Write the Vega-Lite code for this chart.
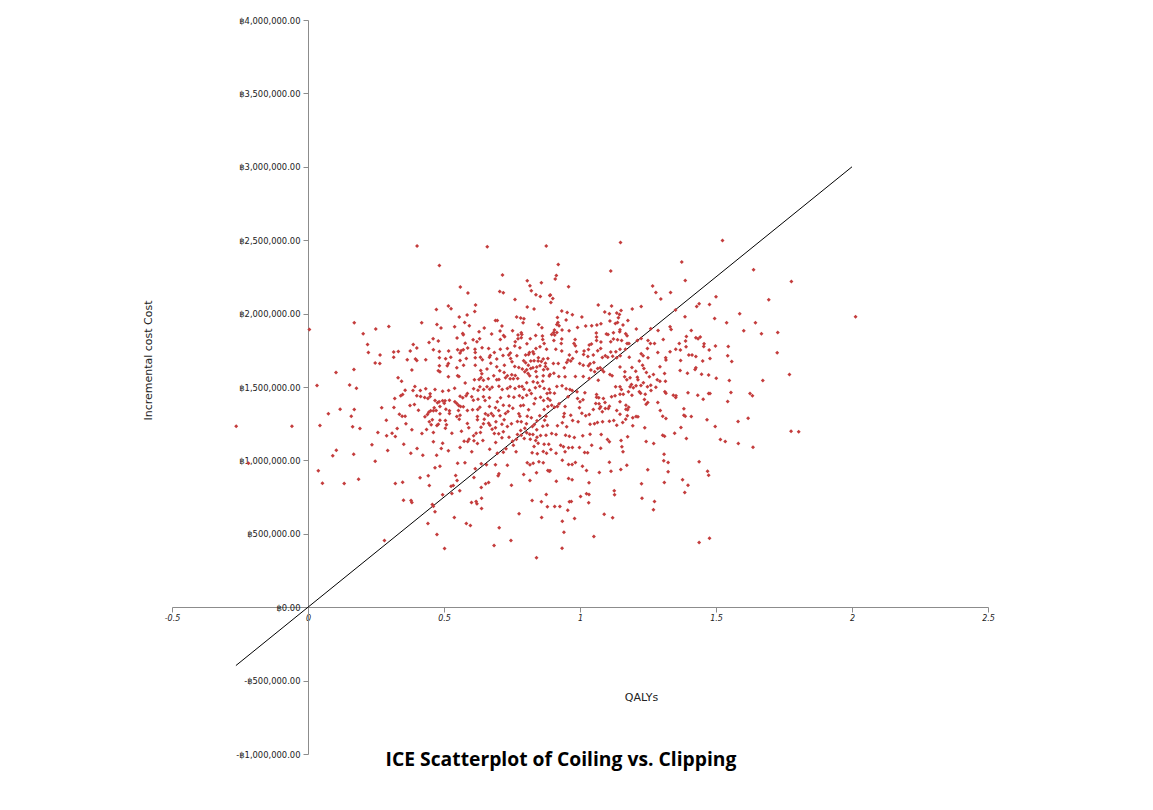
{
"$schema":"https://vega.github.io/schema/vega-lite/v6.json",
"width":816,"height":734,
"autosize":{"type":"none"},
"padding":{"left":172,"top":20,"right":165,"bottom":56},
"background":"white",
"config":{"view":{"stroke":null},"font":"DejaVu Sans"},
"title":{"text":"ICE Scatterplot of Coiling vs. Clipping","orient":"bottom","anchor":"middle","font":"Open Sans","fontSize":19.3,"fontWeight":"bold","color":"#000","offset":-7,"dx":-19},
"datasets":{
"line":[{"q":-0.265,"c":-397500},{"q":2.0,"c":3000000}],
"pts":[
{"q":0.005,"c":1892300},{"q":0.170,"c":1937300},{"q":0.203,"c":1862400},{"q":0.249,"c":1894400},{"q":0.297,"c":1912800},{"q":0.219,"c":1790100},{"q":0.222,"c":1735600},{"q":0.265,"c":1717200},{"q":0.247,"c":1662700},{"q":0.264,"c":1660700},{"q":0.103,"c":1599300},{"q":0.169,"c":1619800},{"q":0.033,"c":1510700},{"q":0.153,"c":1512800},{"q":0.178,"c":1492300},{"q":0.118,"c":1349200},{"q":0.170,"c":1347200},{"q":0.271,"c":1358100},{"q":0.075,"c":1317200},{"q":0.159,"c":1301500},{"q":-0.264,"c":1233400},{"q":-0.059,"c":1233400},{"q":0.044,"c":1238200},{"q":0.164,"c":1228600},{"q":0.191,"c":1217700},{"q":0.288,"c":1274300},{"q":0.257,"c":1190500},{"q":0.289,"c":1167300},{"q":0.235,"c":1106000},{"q":0.104,"c":1069800},{"q":0.091,"c":1031000},{"q":0.168,"c":1042600},{"q":0.293,"c":1067800},{"q":0.247,"c":994900},{"q":-0.219,"c":981300},{"q":0.038,"c":928800},{"q":0.053,"c":845000},{"q":0.133,"c":842900},{"q":0.186,"c":872200},{"q":0.281,"c":454500},
{"q":0.401,"c":2459900},{"q":0.659,"c":2455400},{"q":0.876,"c":2459900},{"q":0.483,"c":2328200},{"q":0.715,"c":2262300},{"q":0.806,"c":2223700},{"q":0.858,"c":2210100},{"q":0.560,"c":2180600},{"q":0.816,"c":2189700},{"q":0.705,"c":2151000},{"q":0.718,"c":2141900},{"q":0.821,"c":2155600},{"q":0.588,"c":2139700},{"q":0.838,"c":2128300},{"q":0.854,"c":2117000},{"q":0.889,"c":2123800},{"q":0.761,"c":2096500},{"q":0.516,"c":2051100},{"q":0.526,"c":2032900},{"q":0.616,"c":2057900},{"q":0.472,"c":2028400},{"q":0.806,"c":2044300},{"q":0.831,"c":2030700},{"q":0.613,"c":2014800},{"q":0.585,"c":1989800},{"q":0.556,"c":1976100},{"q":0.767,"c":1976100},{"q":0.782,"c":1969300},{"q":0.794,"c":1964800},{"q":0.418,"c":1937500},{"q":0.689,"c":1953400},{"q":0.696,"c":1953400},{"q":0.576,"c":1939800},{"q":0.474,"c":1926200},{"q":0.593,"c":1917100},{"q":0.713,"c":1914800},{"q":0.791,"c":1937500},{"q":0.848,"c":1926200},{"q":0.860,"c":1903500},{"q":0.489,"c":1901200},{"q":0.539,"c":1910300},{"q":0.648,"c":1901200},{"q":0.706,"c":1880700},{"q":0.629,"c":1876200},{"q":0.675,"c":1860300},{"q":0.569,"c":1864800},{"q":0.571,"c":1855700},{"q":0.719,"c":1851200},{"q":0.752,"c":1883000},{"q":0.772,"c":1853500},{"q":0.784,"c":1869400},{"q":0.786,"c":1858000},{"q":0.837,"c":1851200},{"q":0.862,"c":1846700},{"q":0.460,"c":1828500},{"q":0.548,"c":1833000},{"q":0.631,"c":1828500},{"q":0.723,"c":1842100},{"q":0.772,"c":1828500},{"q":0.784,"c":1835300},{"q":0.817,"c":1828500},{"q":0.863,"c":1824000},{"q":0.445,"c":1803500},{"q":0.479,"c":1812600},{"q":0.607,"c":1821700},{"q":0.621,"c":1808100},{"q":0.707,"c":1824000},{"q":0.762,"c":1808100},{"q":0.805,"c":1794400},{"q":0.868,"c":1796700},{"q":0.387,"c":1789900},{"q":0.578,"c":1798000},
{"q":0.315,"c":1737600},{"q":0.332,"c":1742100},{"q":0.376,"c":1744400},{"q":0.400,"c":1764900},{"q":0.461,"c":1753500},{"q":0.483,"c":1742100},{"q":0.517,"c":1744400},{"q":0.550,"c":1753500},{"q":0.563,"c":1746700},{"q":0.571,"c":1753500},{"q":0.587,"c":1764900},{"q":0.614,"c":1758000},{"q":0.640,"c":1767100},{"q":0.615,"c":1735300},{"q":0.664,"c":1762600},{"q":0.685,"c":1735300},{"q":0.707,"c":1758000},{"q":0.733,"c":1762600},{"q":0.744,"c":1730800},{"q":0.760,"c":1778500},{"q":0.779,"c":1767100},{"q":0.814,"c":1735300},{"q":0.827,"c":1739900},{"q":0.838,"c":1762600},{"q":0.853,"c":1773900},{"q":0.877,"c":1758000},{"q":0.315,"c":1703500},{"q":0.365,"c":1685400},{"q":0.395,"c":1689900},{"q":0.400,"c":1680800},{"q":0.433,"c":1685400},{"q":0.483,"c":1699000},{"q":0.506,"c":1692200},{"q":0.525,"c":1703500},{"q":0.559,"c":1730800},{"q":0.559,"c":1680800},{"q":0.582,"c":1694400},{"q":0.615,"c":1699000},{"q":0.634,"c":1703500},{"q":0.641,"c":1685400},{"q":0.667,"c":1703500},{"q":0.670,"c":1714900},{"q":0.694,"c":1689900},{"q":0.717,"c":1714900},{"q":0.738,"c":1717200},{"q":0.745,"c":1694400},{"q":0.768,"c":1712600},{"q":0.800,"c":1717200},{"q":0.811,"c":1721700},{"q":0.830,"c":1726200},{"q":0.847,"c":1699000},{"q":0.865,"c":1689900},{"q":0.882,"c":1694400},{"q":0.793,"c":1678500},{"q":0.800,"c":1664900},{"q":0.810,"c":1649000},{"q":0.819,"c":1676300},{"q":0.831,"c":1678500},{"q":0.846,"c":1676300},{"q":0.858,"c":1674000},{"q":0.873,"c":1662600},{"q":0.853,"c":1644500},{"q":0.841,"c":1635400},{"q":0.819,"c":1626300},{"q":0.827,"c":1630800},{"q":0.873,"c":1639900},{"q":0.881,"c":1621800},{"q":0.516,"c":1660400},{"q":0.512,"c":1644500},{"q":0.547,"c":1630800},{"q":0.572,"c":1649000},{"q":0.615,"c":1649000},{"q":0.672,"c":1662600},{"q":0.694,"c":1637700},{"q":0.722,"c":1649000},{"q":0.750,"c":1671700},{"q":0.760,"c":1639900},{"q":0.775,"c":1633100},{"q":0.788,"c":1621800},{"q":0.804,"c":1617200},{"q":0.838,"c":1605900},{"q":0.866,"c":1617200},{"q":0.483,"c":1644500},{"q":0.479,"c":1610400},{"q":0.382,"c":1615000},{"q":0.485,"c":1603600},{"q":0.550,"c":1576300},{"q":0.555,"c":1571800},{"q":0.635,"c":1612700},{"q":0.658,"c":1621800},{"q":0.639,"c":1590000},{"q":0.683,"c":1576300},{"q":0.705,"c":1610400},{"q":0.721,"c":1599000},{"q":0.733,"c":1576300},{"q":0.749,"c":1583200},{"q":0.762,"c":1578600},{"q":0.771,"c":1558200},{"q":0.797,"c":1603600},{"q":0.809,"c":1592200},{"q":0.815,"c":1576300},{"q":0.841,"c":1569500},{"q":0.865,"c":1576300},{"q":0.331,"c":1562700},{"q":0.344,"c":1540000},{"q":0.516,"c":1569500},{"q":0.578,"c":1526400},{"q":0.612,"c":1549100},{"q":0.629,"c":1551400},{"q":0.636,"c":1562700},{"q":0.645,"c":1546800},{"q":0.663,"c":1555900},{"q":0.694,"c":1549100},{"q":0.702,"c":1551400},{"q":0.726,"c":1562700},{"q":0.743,"c":1555900},{"q":0.755,"c":1555900},{"q":0.804,"c":1528600},{"q":0.828,"c":1535400},{"q":0.844,"c":1528600},{"q":0.863,"c":1540000},{"q":0.887,"c":1574100},{"q":0.357,"c":1478700},{"q":0.393,"c":1503600},{"q":0.386,"c":1476400},{"q":0.413,"c":1476400},{"q":0.341,"c":1440000},{"q":0.348,"c":1449100},{"q":0.319,"c":1421900},{"q":0.433,"c":1487700},{"q":0.449,"c":1453700},{"q":0.467,"c":1483200},{"q":0.495,"c":1471800},{"q":0.517,"c":1476400},{"q":0.539,"c":1492300},{"q":0.559,"c":1437800},{"q":0.581,"c":1440000},{"q":0.586,"c":1455900},{"q":0.602,"c":1433200},{"q":0.609,"c":1487700},{"q":0.625,"c":1478700},{"q":0.632,"c":1501400},{"q":0.646,"c":1483200},{"q":0.658,"c":1501400},{"q":0.668,"c":1485500},{"q":0.677,"c":1499100},{"q":0.702,"c":1505900},{"q":0.714,"c":1483200},{"q":0.733,"c":1490000},{"q":0.743,"c":1501400},{"q":0.761,"c":1490000},{"q":0.776,"c":1503600},{"q":0.787,"c":1503600},{"q":0.794,"c":1485500},{"q":0.814,"c":1478700},{"q":0.836,"c":1494600},{"q":0.852,"c":1505900},{"q":0.868,"c":1490000},{"q":0.879,"c":1455900},{"q":0.887,"c":1485500},{"q":0.400,"c":1440000},{"q":0.414,"c":1435500},{"q":0.429,"c":1428700},{"q":0.449,"c":1435500},{"q":0.441,"c":1421900},{"q":0.467,"c":1408200},{"q":0.476,"c":1392300},{"q":0.482,"c":1399200},{"q":0.495,"c":1406000},{"q":0.501,"c":1390100},{"q":0.504,"c":1406000},{"q":0.520,"c":1410500},{"q":0.540,"c":1399200},{"q":0.547,"c":1387800},{"q":0.554,"c":1374200},{"q":0.561,"c":1367400},{"q":0.569,"c":1426400},{"q":0.608,"c":1410500},{"q":0.625,"c":1417300},{"q":0.645,"c":1433200},{"q":0.651,"c":1408200},{"q":0.667,"c":1426400},{"q":0.696,"c":1399200},{"q":0.708,"c":1426400},{"q":0.738,"c":1437800},{"q":0.757,"c":1431000},{"q":0.777,"c":1440000},{"q":0.789,"c":1426400},{"q":0.804,"c":1444600},{"q":0.821,"c":1455900},{"q":0.836,"c":1421900},{"q":0.855,"c":1431000},{"q":0.866,"c":1408200},{"q":0.882,"c":1421900},{"q":0.316,"c":1360500},{"q":0.375,"c":1374200},{"q":0.391,"c":1381000},{"q":0.406,"c":1342400},{"q":0.464,"c":1358300},{"q":0.471,"c":1340100},{"q":0.485,"c":1367400},{"q":0.507,"c":1349200},{"q":0.520,"c":1337800},{"q":0.553,"c":1340100},{"q":0.571,"c":1365100},{"q":0.605,"c":1344600},{"q":0.624,"c":1346900},{"q":0.632,"c":1362800},{"q":0.667,"c":1367400},{"q":0.689,"c":1358300},{"q":0.701,"c":1340100},{"q":0.718,"c":1376500},{"q":0.740,"c":1371900},{"q":0.753,"c":1356000},{"q":0.782,"c":1371900},{"q":0.792,"c":1376500},{"q":0.811,"c":1344600},{"q":0.831,"c":1385500},{"q":0.868,"c":1346900},{"q":0.882,"c":1367400},{"q":0.336,"c":1315100},{"q":0.346,"c":1301500},{"q":0.357,"c":1301500},{"q":0.430,"c":1297000},{"q":0.439,"c":1312800},{"q":0.444,"c":1328700},{"q":0.451,"c":1337800},{"q":0.461,"c":1337800},{"q":0.485,"c":1317400},{"q":0.520,"c":1319700},{"q":0.547,"c":1299200},{"q":0.559,"c":1308300},{"q":0.586,"c":1340100},{"q":0.623,"c":1299200},{"q":0.652,"c":1317400},{"q":0.662,"c":1308300},{"q":0.674,"c":1319700},{"q":0.681,"c":1303800},{"q":0.706,"c":1303800},{"q":0.726,"c":1319700},{"q":0.735,"c":1333300},{"q":0.775,"c":1317400},{"q":0.779,"c":1301500},{"q":0.806,"c":1301500},{"q":0.821,"c":1290100},{"q":0.852,"c":1303800},{"q":0.875,"c":1301500},{"q":0.446,"c":1262900},{"q":0.457,"c":1276500},{"q":0.485,"c":1274200},{"q":0.479,"c":1247000},{"q":0.505,"c":1272000},{"q":0.509,"c":1242400},{"q":0.360,"c":1249200},{"q":0.453,"c":1242400},{"q":0.474,"c":1237900},{"q":0.556,"c":1281100},{"q":0.586,"c":1251500},{"q":0.623,"c":1276500},{"q":0.645,"c":1249200},{"q":0.648,"c":1281100},{"q":0.664,"c":1253800},{"q":0.669,"c":1240200},{"q":0.691,"c":1262900},{"q":0.713,"c":1247000},{"q":0.721,"c":1276500},{"q":0.748,"c":1249200},{"q":0.770,"c":1265200},{"q":0.784,"c":1262900},{"q":0.803,"c":1249200},{"q":0.832,"c":1244700},{"q":0.842,"c":1269700},{"q":0.870,"c":1274200},{"q":0.880,"c":1240200},{"q":0.328,"c":1217400},{"q":0.382,"c":1208400},{"q":0.436,"c":1210600},{"q":0.505,"c":1219700},{"q":0.591,"c":1222000},{"q":0.636,"c":1226500},{"q":0.677,"c":1212900},{"q":0.689,"c":1222000},{"q":0.733,"c":1231100},{"q":0.782,"c":1203800},{"q":0.797,"c":1219700},{"q":0.825,"c":1231100},{"q":0.841,"c":1208400},{"q":0.863,"c":1233400},{"q":0.309,"c":1185600},{"q":0.321,"c":1162900},{"q":0.419,"c":1183400},{"q":0.461,"c":1190200},{"q":0.529,"c":1185600},{"q":0.564,"c":1199300},{"q":0.609,"c":1167500},{"q":0.618,"c":1185600},{"q":0.634,"c":1190200},{"q":0.685,"c":1183400},{"q":0.701,"c":1181100},{"q":0.718,"c":1194700},{"q":0.770,"c":1176600},{"q":0.784,"c":1172000},{"q":0.804,"c":1187900},{"q":0.815,"c":1178800},{"q":0.827,"c":1176600},{"q":0.842,"c":1158400},{"q":0.855,"c":1169800},{"q":0.875,"c":1172000},{"q":0.574,"c":1131100},{"q":0.587,"c":1128900},{"q":0.592,"c":1144800},{"q":0.610,"c":1133400},{"q":0.623,"c":1115200},{"q":0.643,"c":1135700},{"q":0.690,"c":1122000},{"q":0.713,"c":1153800},{"q":0.739,"c":1158400},{"q":0.752,"c":1131100},{"q":0.766,"c":1144800},{"q":0.795,"c":1149300},{"q":0.817,"c":1144800},{"q":0.837,"c":1135700},{"q":0.846,"c":1117500},{"q":0.868,"c":1110700},{"q":0.885,"c":1110700},{"q":0.352,"c":1110700},{"q":0.461,"c":1126600},{"q":0.495,"c":1117500},{"q":0.516,"c":1065300},{"q":0.559,"c":1088000},{"q":0.490,"c":1081200},{"q":0.401,"c":1081200},{"q":0.378,"c":1049400},{"q":0.602,"c":1058500},{"q":0.668,"c":1076600},{"q":0.696,"c":1049400},{"q":0.718,"c":1056200},{"q":0.728,"c":1078900},{"q":0.755,"c":1103900},{"q":0.765,"c":1058500},{"q":0.824,"c":1051600},{"q":0.831,"c":1094800},{"q":0.843,"c":1044800},{"q":0.865,"c":1060700},{"q":0.877,"c":1049400},{"q":0.422,"c":1035700},{"q":0.473,"c":1035700},
{"q":0.321,"c":842700},{"q":0.348,"c":851800},{"q":0.412,"c":881300},{"q":0.442,"c":894900},{"q":0.446,"c":829100},{"q":0.467,"c":949500},{"q":0.485,"c":960800},{"q":0.550,"c":981300},{"q":0.577,"c":983500},{"q":0.615,"c":942600},{"q":0.637,"c":976700},{"q":0.656,"c":969900},{"q":0.689,"c":969900},{"q":0.733,"c":967600},{"q":0.806,"c":983500},{"q":0.816,"c":969900},{"q":0.828,"c":981300},{"q":0.849,"c":990300},{"q":0.865,"c":983500},{"q":0.882,"c":931300},{"q":0.543,"c":897200},{"q":0.548,"c":863100},{"q":0.526,"c":824500},{"q":0.534,"c":829100},{"q":0.529,"c":774600},{"q":0.558,"c":792700},{"q":0.610,"c":883600},{"q":0.637,"c":815400},{"q":0.653,"c":840400},{"q":0.664,"c":849500},{"q":0.699,"c":894900},{"q":0.702,"c":908600},{"q":0.748,"c":831400},{"q":0.793,"c":904000},{"q":0.816,"c":863100},{"q":0.840,"c":915400},{"q":0.887,"c":926700},{"q":0.351,"c":729100},{"q":0.379,"c":726900},{"q":0.382,"c":713200},{"q":0.457,"c":699600},{"q":0.461,"c":688200},{"q":0.467,"c":649600},{"q":0.495,"c":765500},{"q":0.538,"c":611000},{"q":0.601,"c":713200},{"q":0.618,"c":720000},{"q":0.621,"c":704100},{"q":0.638,"c":742800},{"q":0.638,"c":672300},{"q":0.582,"c":570100},{"q":0.597,"c":556500},{"q":0.441,"c":570100},{"q":0.474,"c":495200},{"q":0.502,"c":399800},{"q":0.703,"c":540600},{"q":0.684,"c":420200},{"q":0.746,"c":454300},{"q":0.776,"c":636000},{"q":0.824,"c":726900},{"q":0.858,"c":717800},{"q":0.880,"c":683700},{"q":0.876,"c":767700},{"q":0.859,"c":611000},{"q":0.840,"c":336200},
{"q":1.149,"c":2484900},{"q":0.920,"c":2335000},{"q":1.113,"c":2289600},{"q":0.913,"c":2260100},{"q":0.909,"c":2235100},{"q":0.958,"c":2182800},{"q":1.374,"c":2350900},{"q":1.387,"c":2226000},{"q":1.267,"c":2187400},{"q":1.279,"c":2144200},{"q":1.333,"c":2144200},{"q":1.297,"c":2098800},{"q":0.891,"c":2126100},{"q":0.900,"c":2103300},{"q":0.893,"c":2076100},{"q":1.067,"c":2057900},{"q":1.116,"c":2051100},{"q":1.192,"c":2030700},{"q":1.225,"c":2048800},{"q":1.476,"c":2062500},{"q":1.429,"c":2048800},{"q":1.438,"c":2067000},{"q":1.351,"c":2023800},{"q":1.386,"c":1978400},{"q":0.933,"c":2017000},{"q":0.953,"c":2007900},{"q":0.972,"c":1992000},{"q":1.007,"c":1976100},{"q":1.091,"c":2010200},{"q":1.108,"c":1998800},{"q":1.135,"c":2003400},{"q":1.145,"c":1994300},{"q":1.151,"c":2021500},{"q":1.141,"c":1971600},{"q":1.176,"c":1953400},{"q":0.917,"c":1973800},{"q":0.919,"c":1939800},{"q":0.915,"c":1926200},{"q":0.949,"c":1955700},{"q":0.923,"c":1917100},{"q":0.906,"c":1887600},{"q":0.903,"c":1871700},{"q":0.915,"c":1871700},{"q":0.896,"c":1858000},{"q":0.907,"c":1853500},{"q":0.934,"c":1887600},{"q":0.960,"c":1883000},{"q":0.991,"c":1905700},{"q":1.021,"c":1914800},{"q":1.043,"c":1917100},{"q":1.062,"c":1921600},{"q":1.077,"c":1930700},{"q":1.110,"c":1948900},{"q":1.130,"c":1933000},{"q":1.138,"c":1939800},{"q":1.158,"c":1921600},{"q":1.147,"c":1889800},{"q":1.146,"c":1876200},{"q":1.168,"c":1862600},{"q":1.173,"c":1848900},{"q":1.123,"c":1869400},{"q":1.097,"c":1860300},{"q":1.103,"c":1858000},{"q":1.060,"c":1867100},{"q":1.061,"c":1839800},{"q":1.061,"c":1817100},{"q":1.123,"c":1826200},{"q":1.138,"c":1821700},{"q":1.153,"c":1817100},{"q":1.207,"c":1894300},{"q":1.225,"c":1830800},{"q":1.211,"c":1817100},{"q":1.173,"c":1796700},{"q":1.180,"c":1796700},{"q":1.113,"c":1808000},{"q":1.077,"c":1805800},{"q":1.042,"c":1792200},{"q":1.034,"c":1785300},{"q":0.982,"c":1824000},{"q":0.978,"c":1796700},{"q":0.933,"c":1826200},{"q":0.931,"c":1796700},{"q":0.904,"c":1817100},{"q":1.260,"c":1896600},{"q":1.287,"c":1885300},{"q":1.250,"c":1817100},{"q":1.259,"c":1796700},{"q":1.274,"c":1796700},{"q":1.306,"c":1824000},{"q":1.331,"c":1910300},{"q":1.335,"c":1892100},{"q":1.409,"c":1885300},{"q":1.391,"c":1844400},{"q":1.388,"c":1812600},{"q":1.426,"c":1835300},{"q":1.434,"c":1828500},{"q":1.442,"c":1839800},{"q":1.365,"c":1796700},{"q":1.456,"c":1794400},
{"q":0.911,"c":1758000},{"q":0.933,"c":1744400},{"q":0.983,"c":1780800},{"q":0.987,"c":1739900},{"q":1.015,"c":1744400},{"q":1.031,"c":1755800},{"q":1.076,"c":1762600},{"q":1.065,"c":1746700},{"q":1.113,"c":1737600},{"q":1.132,"c":1739900},{"q":1.147,"c":1758000},{"q":1.167,"c":1758000},{"q":1.013,"c":1721700},{"q":1.029,"c":1708100},{"q":1.049,"c":1717200},{"q":1.082,"c":1701300},{"q":1.093,"c":1712600},{"q":1.102,"c":1703500},{"q":1.120,"c":1710300},{"q":1.135,"c":1699000},{"q":1.148,"c":1712600},{"q":1.181,"c":1703500},{"q":1.225,"c":1726200},{"q":1.232,"c":1712600},{"q":1.250,"c":1699000},{"q":1.248,"c":1762600},{"q":1.286,"c":1735300},{"q":1.315,"c":1699000},{"q":1.316,"c":1683100},{"q":1.331,"c":1739900},{"q":1.352,"c":1758000},{"q":1.369,"c":1751200},{"q":1.390,"c":1773900},{"q":1.400,"c":1717200},{"q":1.412,"c":1717200},{"q":1.426,"c":1708100},{"q":1.451,"c":1676300},{"q":1.455,"c":1776200},{"q":1.475,"c":1751200},{"q":0.902,"c":1660400},{"q":0.920,"c":1660400},{"q":0.942,"c":1630800},{"q":0.951,"c":1667200},{"q":0.956,"c":1683100},{"q":0.966,"c":1676300},{"q":0.973,"c":1694400},{"q":0.961,"c":1717200},{"q":0.999,"c":1660400},{"q":1.012,"c":1649000},{"q":1.031,"c":1644500},{"q":1.037,"c":1658100},{"q":1.051,"c":1667200},{"q":1.040,"c":1615000},{"q":1.054,"c":1603600},{"q":1.065,"c":1626300},{"q":1.074,"c":1630800},{"q":1.081,"c":1617200},{"q":1.087,"c":1603600},{"q":1.110,"c":1585400},{"q":1.118,"c":1576300},{"q":1.147,"c":1635400},{"q":1.165,"c":1603600},{"q":1.191,"c":1633100},{"q":1.205,"c":1608100},{"q":1.218,"c":1676300},{"q":1.230,"c":1649000},{"q":1.235,"c":1626300},{"q":1.244,"c":1599000},{"q":1.294,"c":1637700},{"q":1.311,"c":1592200},{"q":1.270,"c":1585400},{"q":1.255,"c":1569500},{"q":1.294,"c":1540000},{"q":1.370,"c":1680800},{"q":1.368,"c":1612700},{"q":1.395,"c":1594500},{"q":1.426,"c":1630800},{"q":1.423,"c":1619500},{"q":1.447,"c":1587700},{"q":1.473,"c":1580900},{"q":0.890,"c":1585400},{"q":0.904,"c":1594500},{"q":0.922,"c":1571800},{"q":0.945,"c":1569500},{"q":0.983,"c":1571800},{"q":1.012,"c":1571800},{"q":1.034,"c":1558200},{"q":1.067,"c":1546800},{"q":1.164,"c":1569500},{"q":1.172,"c":1549100},{"q":1.184,"c":1562700},{"q":1.211,"c":1567200},{"q":1.213,"c":1549100},{"q":1.189,"c":1517300},{"q":1.184,"c":1501400},{"q":1.196,"c":1494600},{"q":1.206,"c":1508200},{"q":1.224,"c":1510500},{"q":1.233,"c":1528600},{"q":1.248,"c":1501400},{"q":1.260,"c":1512700},{"q":1.279,"c":1499100},{"q":1.284,"c":1549100},{"q":1.314,"c":1540000},{"q":0.915,"c":1503600},{"q":0.934,"c":1508200},{"q":0.949,"c":1487700},{"q":0.963,"c":1483200},{"q":0.971,"c":1476400},{"q":0.989,"c":1467300},{"q":0.906,"c":1458200},{"q":0.890,"c":1460500},{"q":0.956,"c":1433200},{"q":1.018,"c":1460500},{"q":1.061,"c":1449100},{"q":1.061,"c":1431000},{"q":1.069,"c":1426400},{"q":1.086,"c":1421900},{"q":1.116,"c":1433200},{"q":1.129,"c":1440000},{"q":1.147,"c":1451400},{"q":1.152,"c":1483200},{"q":1.147,"c":1501400},{"q":1.131,"c":1501400},{"q":1.159,"c":1451400},{"q":1.178,"c":1467300},{"q":1.191,"c":1444600},{"q":1.218,"c":1467300},{"q":1.223,"c":1458200},{"q":1.240,"c":1451400},{"q":1.261,"c":1476400},{"q":1.312,"c":1467300},{"q":1.316,"c":1458200},{"q":1.343,"c":1444600},{"q":1.353,"c":1440000},{"q":1.352,"c":1428700},{"q":1.397,"c":1460500},{"q":1.433,"c":1444600},{"q":1.453,"c":1417300},{"q":1.473,"c":1455900},{"q":0.890,"c":1410500},{"q":0.896,"c":1376500},{"q":0.906,"c":1362800},{"q":0.917,"c":1367400},{"q":0.923,"c":1385500},{"q":0.945,"c":1367400},{"q":0.991,"c":1421900},{"q":1.000,"c":1399200},{"q":1.011,"c":1412800},{"q":1.058,"c":1387800},{"q":1.070,"c":1385500},{"q":1.076,"c":1365100},{"q":1.072,"c":1353700},{"q":1.092,"c":1394600},{"q":1.108,"c":1369600},{"q":1.147,"c":1399200},{"q":1.169,"c":1376500},{"q":1.179,"c":1362800},{"q":1.169,"c":1349200},{"q":1.175,"c":1344600},{"q":1.237,"c":1415100},{"q":1.243,"c":1383300},{"q":1.249,"c":1394600},{"q":1.286,"c":1394600},{"q":1.295,"c":1340100},{"q":1.147,"c":1315100},{"q":1.093,"c":1353700},{"q":1.104,"c":1353700},{"q":1.135,"c":1340100},{"q":1.082,"c":1331000},{"q":1.049,"c":1346900},{"q":1.021,"c":1303800},{"q":1.034,"c":1312800},{"q":0.942,"c":1319700},{"q":0.940,"c":1297000},{"q":0.966,"c":1308300},{"q":0.998,"c":1358300},{"q":1.007,"c":1321900},{"q":0.973,"c":1272000},{"q":0.993,"c":1262900},{"q":0.917,"c":1235600},{"q":0.935,"c":1256100},{"q":0.951,"c":1228800},{"q":1.037,"c":1247000},{"q":1.053,"c":1249200},{"q":1.064,"c":1258300},{"q":1.083,"c":1262900},{"q":1.108,"c":1267400},{"q":1.124,"c":1272000},{"q":1.135,"c":1240200},{"q":1.157,"c":1258300},{"q":1.174,"c":1303800},{"q":1.194,"c":1290100},{"q":1.206,"c":1299200},{"q":1.213,"c":1297000},{"q":1.168,"c":1281100},{"q":1.194,"c":1235600},{"q":1.238,"c":1222000},{"q":1.304,"c":1301500},{"q":1.316,"c":1285600},{"q":1.382,"c":1351500},{"q":1.382,"c":1308300},{"q":1.387,"c":1301500},{"q":1.409,"c":1299200},{"q":1.371,"c":1224300},{"q":1.348,"c":1185600},{"q":1.304,"c":1172000},{"q":1.311,"c":1165200},{"q":1.391,"c":1149300},{"q":1.467,"c":1276500},{"q":0.896,"c":1183400},{"q":0.912,"c":1176600},{"q":0.947,"c":1172000},{"q":0.961,"c":1165200},{"q":0.979,"c":1156100},{"q":1.010,"c":1167500},{"q":1.037,"c":1178800},{"q":1.078,"c":1176600},{"q":1.101,"c":1142500},{"q":1.108,"c":1126600},{"q":1.175,"c":1160700},{"q":1.151,"c":1135700},{"q":1.154,"c":1092500},{"q":1.158,"c":1058500},{"q":1.243,"c":1128900},{"q":1.271,"c":1115200},{"q":0.929,"c":1103900},{"q":0.939,"c":1092500},{"q":0.958,"c":1085700},{"q":0.972,"c":1088000},{"q":0.998,"c":1088000},{"q":1.017,"c":1053900},{"q":1.028,"c":1051600},{"q":1.043,"c":1103900},{"q":1.076,"c":1083400},{"q":0.912,"c":1049400},{"q":0.945,"c":1058500},{"q":0.893,"c":1074400},{"q":1.309,"c":1042600},
{"q":0.890,"c":929000},{"q":0.913,"c":858600},{"q":0.935,"c":1001700},{"q":0.958,"c":972200},{"q":0.971,"c":972200},{"q":0.983,"c":985800},{"q":1.009,"c":960800},{"q":1.024,"c":931300},{"q":0.958,"c":876800},{"q":0.971,"c":867700},{"q":1.033,"c":847200},{"q":1.002,"c":754100},{"q":1.024,"c":772300},{"q":1.033,"c":767700},{"q":1.032,"c":710900},{"q":1.071,"c":917700},{"q":1.108,"c":988100},{"q":1.114,"c":926700},{"q":1.150,"c":938100},{"q":1.172,"c":967600},{"q":1.249,"c":935800},{"q":1.308,"c":997200},{"q":1.324,"c":985800},{"q":1.324,"c":922200},{"q":1.438,"c":990300},{"q":1.469,"c":926700},{"q":1.473,"c":899500},{"q":1.310,"c":849500},{"q":1.377,"c":867700},{"q":1.397,"c":831400},{"q":1.385,"c":781400},{"q":1.226,"c":840400},{"q":1.228,"c":742800},{"q":1.274,"c":720000},{"q":1.270,"c":663300},{"q":1.126,"c":792700},{"q":1.127,"c":765500},{"q":0.907,"c":686000},{"q":0.926,"c":686000},{"q":0.955,"c":661000},{"q":0.961,"c":717800},{"q":0.968,"c":720000},{"q":0.935,"c":586000},{"q":0.980,"c":604200},{"q":1.089,"c":633700},{"q":1.120,"c":608700},{"q":0.941,"c":511100},{"q":1.051,"c":481600},{"q":0.934,"c":402000},{"q":1.438,"c":440700},{"q":1.476,"c":470200},
{"q":1.524,"c":2498600},{"q":1.638,"c":2298700},{"q":1.777,"c":2219200},{"q":1.500,"c":2114700},{"q":1.694,"c":2094300},{"q":1.495,"c":1967100},{"q":1.539,"c":1937500},{"q":1.587,"c":1998800},{"q":1.645,"c":1937500},{"q":1.602,"c":1883000},{"q":1.667,"c":1862600},{"q":1.727,"c":1871700},{"q":2.013,"c":1978400},
{"q":1.498,"c":1778500},{"q":1.545,"c":1776200},{"q":1.478,"c":1694400},{"q":1.543,"c":1712600},{"q":1.558,"c":1674000},{"q":1.725,"c":1733100},{"q":1.770,"c":1585400},{"q":1.501,"c":1560400},{"q":1.549,"c":1544500},{"q":1.672,"c":1544500},{"q":1.478,"c":1456000},{"q":1.555,"c":1462800},{"q":1.625,"c":1456000},{"q":1.634,"c":1440000},{"q":1.543,"c":1401400},{"q":1.618,"c":1287900},{"q":1.581,"c":1265200},{"q":1.497,"c":1231100},{"q":1.516,"c":1142500},{"q":1.534,"c":1128900},{"q":1.582,"c":1115200},{"q":1.636,"c":1090200},{"q":1.776,"c":1199300},{"q":1.804,"c":1194700}
]},
"encoding":{
"x":{"field":"q","type":"quantitative","scale":{"domain":[-0.5,2.5],"nice":false,"zero":false},
"axis":{"orient":"bottom","offset":-147,"values":[-0.5,0,0.5,1,1.5,2,2.5],"grid":false,"domainColor":"#8c8c8c","tickColor":"#8c8c8c","tickSize":5,"labelFont":"DejaVu Sans","labelFontSize":8,"labelFontStyle":"italic","labelColor":"#222","labelPadding":2,"labelFlush":false,"labelOverlap":false,"labelBound":false,"labelExpr":"datum.value < 0 ? '-' + format(-datum.value, '') : format(datum.value, '')",
"title":"QALYs","titleFont":"DejaVu Sans","titleFontSize":11,"titleFontWeight":"normal","titleColor":"#222","titleX":469,"titleY":90,"titleAlign":"center","titleBaseline":"middle"}},
"y":{"field":"c","type":"quantitative","scale":{"domain":[-1000000,4000000],"nice":false,"zero":false},
"axis":{"orient":"left","offset":-136,"values":[-1000000,-500000,0,500000,1000000,1500000,2000000,2500000,3000000,3500000,4000000],"grid":false,"domainColor":"#8c8c8c","tickColor":"#8c8c8c","tickSize":5,"labelFont":"DejaVu Sans","labelFontSize":8.4,"labelColor":"#222","labelPadding":3,"labelFlush":false,"labelOverlap":false,"labelBound":false,"labelExpr":"datum.value < 0 ? '-฿' + format(-datum.value, ',.2f') : '฿' + format(datum.value, ',.2f')",
"title":"Incremental cost Cost","titleFont":"DejaVu Sans","titleFontSize":11,"titleFontWeight":"normal","titleColor":"#222","titleAngle":-90,"titleX":-160,"titleY":340,"titleAlign":"center","titleBaseline":"middle"}}
},
"layer":[
{"data":{"name":"line"},"mark":{"type":"line","color":"#000","strokeWidth":1}},
{"data":{"name":"pts"},"mark":{"type":"point","shape":"diamond","filled":true,"size":16,"color":"#c43c3c","opacity":1}}
]
}
